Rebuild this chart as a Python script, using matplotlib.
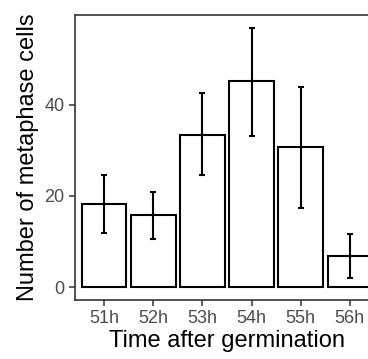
import matplotlib
matplotlib.use("Agg")
import matplotlib.pyplot as plt
import numpy as np

categories = ["51h", "52h", "53h", "54h", "55h", "56h"]
means = [18.3, 15.8, 33.4, 45.2, 30.6, 6.9]
err_low = [11.9, 10.6, 24.6, 33.2, 17.4, 2.0]
err_high = [24.6, 20.8, 42.6, 56.8, 43.8, 11.7]
yticks = [0, 20, 40]

plt.rcParams['font.family'] = ['Liberation Sans', 'DejaVu Sans']

fig = plt.figure(figsize=(3.68, 3.59), dpi=100)
ax = fig.add_axes([75/368, 1-300/359, (379-75)/368, (300-15)/359])

x = np.arange(1, len(categories)+1)
ax.bar(x, means, width=0.9, color="white", edgecolor="black", linewidth=1.5, zorder=2)
m = np.array(means)
lo = m - np.array(err_low)
hi = np.array(err_high) - m
ax.errorbar(x, means, yerr=[lo, hi], fmt="none", ecolor="black", elinewidth=1.5,
            capsize=2.2, capthick=1.5, zorder=3)

ymax = max(err_high)
ax.set_ylim(-0.05*ymax, 1.05*ymax)
ax.set_xlim(0.4, len(categories)+0.6)
ax.set_xticks(x)
ax.set_xticklabels(categories)
ax.set_yticks(yticks)
for s in ax.spines.values():
    s.set_color("#333333")
    s.set_linewidth(1.2)
ax.tick_params(colors="#333333", labelcolor="#4d4d4d", labelsize=13, length=4.5, width=1.1, pad=3)
ax.set_xlabel("Time after germination", fontsize=17, color="black", labelpad=2)
ax.set_ylabel("Number of metaphase cells", fontsize=17, color="black", labelpad=4)
fig.savefig("out.png", dpi=100)
